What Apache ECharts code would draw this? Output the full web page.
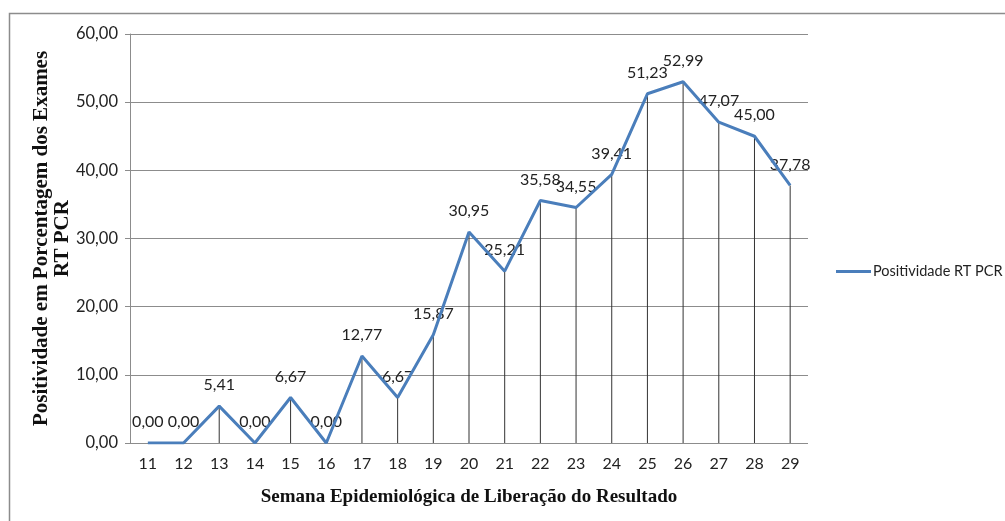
<!DOCTYPE html>
<html>
<head>
<meta charset="utf-8">
<script src="https://cdn.jsdelivr.net/npm/echarts@6/dist/echarts.min.js"></script>
<style>
html, body { margin: 0; padding: 0; background: #fff; }
#chart { width: 1005px; height: 521px; }
</style>
</head>
<body>
<div id="chart"></div>
<script>
var semanas = ['11', '12', '13', '14', '15', '16', '17', '18', '19', '20', '21', '22', '23', '24', '25', '26', '27', '28', '29'];
var positividade = [0.00, 0.00, 5.41, 0.00, 6.67, 0.00, 12.77, 6.67, 15.87, 30.95, 25.21, 35.58, 34.55, 39.41, 51.23, 52.99, 47.07, 45.00, 37.78];
var yTicks = [0, 10, 20, 30, 40, 50, 60];

function virgula(v) {
    return Number(v).toFixed(2).replace('.', ',');
}

var chart = echarts.init(document.getElementById('chart'));

var option = {
    backgroundColor: '#fff',
    animation: false,
    graphic: [{
        type: 'rect',
        shape: { x: 9.5, y: 13.5, width: 1100, height: 600 },
        style: { fill: 'none', stroke: '#8c8c8c', lineWidth: 1.5 },
        silent: true
    }],
    grid: { left: 130, right: 197, top: 34, bottom: 78 },
    legend: {
        data: ['Positividade RT PCR'],
        left: 831,
        top: 259,
        itemWidth: 35,
        itemHeight: 3,
        itemGap: 2,
        icon: 'rect',
        itemStyle: { color: '#4a7ebb' },
        textStyle: { fontFamily: 'Lato', fontSize: 14.5, color: '#222', padding: [0, 0, 0, -3] }
    },
    xAxis: {
        type: 'category',
        data: semanas,
        boundaryGap: true,
        name: 'Semana Epidemiológica de Liberação do Resultado',
        nameLocation: 'middle',
        nameGap: 45,
        nameTextStyle: { fontFamily: 'Liberation Serif', fontWeight: 'bold', fontSize: 19, color: '#111' },
        axisLine: { show: false },
        axisTick: { show: false },
        axisLabel: { fontFamily: 'Lato', fontSize: 16, color: '#222', margin: 13 }
    },
    yAxis: {
        type: 'value',
        min: 0,
        max: yTicks[yTicks.length - 1],
        interval: yTicks[1] - yTicks[0],
        name: 'Positividade em Porcentagem dos Exames\nRT PCR',
        nameLocation: 'middle',
        nameGap: 57,
        nameMoveOverlap: false,
        nameRotate: 90,
        nameTextStyle: { fontFamily: 'Liberation Serif', fontWeight: 'bold', fontSize: 21, color: '#111', lineHeight: 21 },
        axisLine: { show: true, lineStyle: { color: '#8c8c8c', width: 1 } },
        axisTick: { show: true, inside: false, length: 5, lineStyle: { color: '#8c8c8c' } },
        splitLine: { show: true, lineStyle: { color: '#8c8c8c', width: 1 } },
        axisLabel: {
            fontFamily: 'Lato', fontSize: 16.5, color: '#222', margin: 12,
            formatter: function (v) { return virgula(v); }
        }
    },
    series: [{
        name: 'quedas',
        type: 'bar',
        data: positividade,
        barWidth: 1,
        silent: true,
        itemStyle: { color: '#333' },
        label: {
            show: true,
            position: 'top',
            distance: 13,
            fontFamily: 'Lato',
            fontSize: 16,
            color: '#222',
            formatter: function (p) { return virgula(p.value); }
        },
        z: 1
    }, {
        name: 'Positividade RT PCR',
        type: 'line',
        data: positividade,
        symbol: 'none',
        color: '#4a7ebb',
        lineStyle: { color: '#4a7ebb', width: 3 },
        z: 3
    }]
};

chart.setOption(option);
</script>
</body>
</html>
